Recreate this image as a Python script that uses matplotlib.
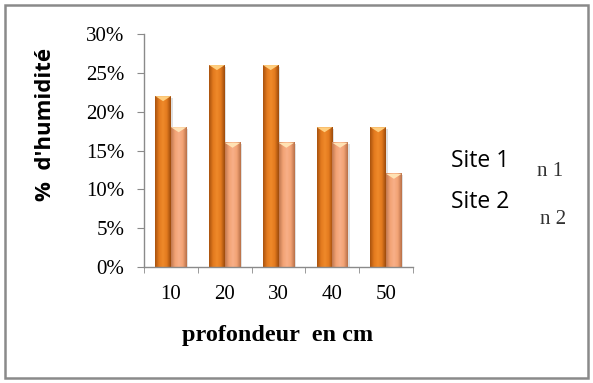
import numpy as np
import matplotlib.pyplot as plt
from matplotlib.patches import Rectangle, Polygon
from matplotlib.colors import LinearSegmentedColormap

# humidity (%) measured at each depth
profondeurs = ['10', '20', '30', '40', '50']
site1 = [0.22, 0.26, 0.26, 0.18, 0.18]
site2 = [0.18, 0.16, 0.16, 0.16, 0.12]
yticks = [0, 0.05, 0.10, 0.15, 0.20, 0.25, 0.30]
ytick_labels = ['0%', '5%', '10%', '15%', '20%', '25%', '30%']

W, H = 593, 383
fig = plt.figure(figsize=(W / 100, H / 100), dpi=100)
fig.patch.set_facecolor('white')

# outer frame
fig.add_artist(Rectangle((5 / W, 5 / H), 583 / W, 373 / H, transform=fig.transFigure,
                         fill=False, edgecolor='#8a8a8a', linewidth=1.8))

ax = fig.add_axes([144 / W, (H - 267) / H, (413 - 144) / W, (267 - 34) / H])

dark_cmap = LinearSegmentedColormap.from_list(
    'dark', ['#a8520e', '#e27a1e', '#f08a2a', '#e27a1e', '#9c4a0c'])
light_cmap = LinearSegmentedColormap.from_list(
    'light', ['#c07850', '#f2a274', '#f8b088', '#f2a274', '#b87048'])
grad = np.linspace(0, 1, 64).reshape(1, -1)

bw = 0.29
bevel = 0.0065


def shaded_bar(x0, h, cmap, top_color):
    # soft drop shadow on the right
    ax.add_patch(Rectangle((x0 + 0.03, 0), bw, h - 0.002, facecolor='#000000',
                           alpha=0.12, edgecolor='none', zorder=1))
    ax.imshow(grad, cmap=cmap, aspect='auto', extent=(x0, x0 + bw, 0, h),
              interpolation='bilinear', zorder=2)
    ax.add_patch(Polygon([(x0, h), (x0 + bw, h), (x0 + bw / 2, h - bevel)],
                         closed=True, facecolor=top_color, edgecolor='none', zorder=3))


for i in range(len(profondeurs)):
    shaded_bar(i - bw, site1[i], dark_cmap, '#ffcf80')
    shaded_bar(i, site2[i], light_cmap, '#ffe2b4')

ax.set_xlim(-0.5, len(profondeurs) - 0.5)
ax.set_ylim(0, 0.30)

ax.set_yticks(yticks)
ax.set_yticklabels(ytick_labels, fontfamily='Liberation Serif', fontsize=15)
ax.set_xticks(range(len(profondeurs)))
ax.set_xticklabels(profondeurs, fontfamily='Liberation Serif', fontsize=15)
ax.set_xticks(np.arange(-0.5, len(profondeurs)), minor=True)
ax.tick_params(axis='x', which='major', length=0, pad=13)
ax.tick_params(axis='x', which='minor', length=4.5, color='#8a8a8a', direction='out')
ax.tick_params(axis='y', length=5, color='#8a8a8a', pad=9)

for s in ['top', 'right']:
    ax.spines[s].set_visible(False)
for s in ['left', 'bottom']:
    ax.spines[s].set_color('#8a8a8a')
    ax.spines[s].set_linewidth(1.0)

fig.text(46 / W, 1 - 124 / H, "%  d'humidité", rotation=90, ha='center', va='center',
         fontfamily='Open Sans', fontweight='bold', fontsize=16)
fig.text(278 / W, 1 - 336 / H, 'profondeur  en cm', ha='center', va='center',
         fontfamily='Liberation Serif', fontweight='bold', fontsize=17.5)

# legend entries
fig.text(451 / W, 1 - 161 / H, 'Site 1', ha='left', va='center',
         fontfamily='Open Sans', fontsize=16.5)
fig.text(451 / W, 1 - 202 / H, 'Site 2', ha='left', va='center',
         fontfamily='Open Sans', fontsize=16.5)
fig.text(537 / W, 1 - 172 / H, 'n 1', ha='left', va='center',
         fontfamily='Liberation Serif', fontsize=15, color='#333333')
fig.text(540 / W, 1 - 220 / H, 'n 2', ha='left', va='center',
         fontfamily='Liberation Serif', fontsize=15, color='#333333')

fig.savefig('out.png', dpi=100)
